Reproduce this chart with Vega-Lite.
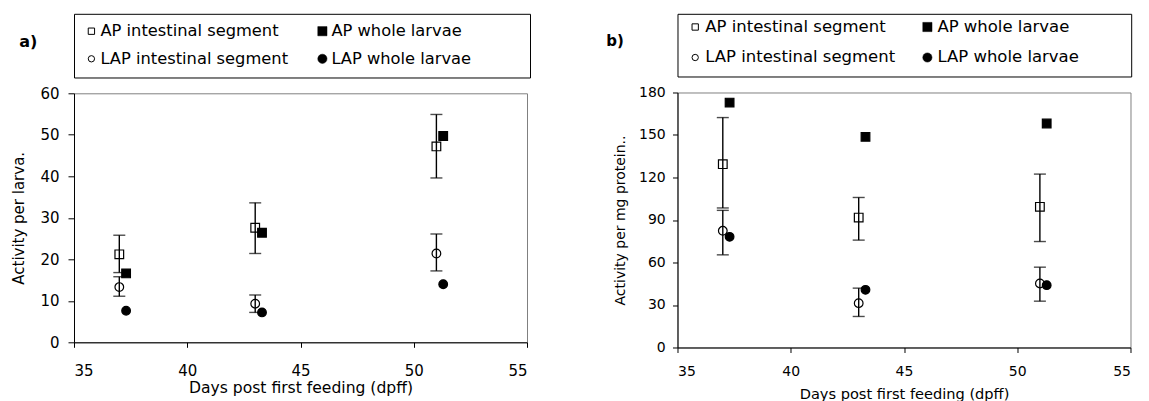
{
  "$schema": "https://vega.github.io/schema/vega-lite/v6.json",
  "background": "white",
  "padding": {"left": 10, "top": 12.8, "right": 5, "bottom": 0},
  "spacing": 74.5,
  "config": {
    "view": {"stroke": "#808080", "strokeWidth": 1},
    "axis": {
      "grid": false,
      "domainColor": "black",
      "domainWidth": 1,
      "tickColor": "black",
      "tickWidth": 1,
      "labelColor": "black",
      "titleColor": "black",
      "labelFont": "DejaVu Sans",
      "titleFont": "DejaVu Sans",
      "titleFontWeight": "normal"
    },
    "title": {"font": "DejaVu Sans", "fontWeight": "bold", "color": "black"}
  },
  "hconcat": [
    {
      "bounds": "flush",
      "spacing": 15.5,
      "resolve": {"scale": {"x": "independent", "y": "independent", "shape": "independent", "fill": "independent"}},
      "vconcat": [
        {
          "width": 456,
          "height": 63.7,
          "view": {"stroke": "black", "strokeWidth": 1, "fill": "white"},
          "title": {"text": "a)", "orient": "top", "anchor": "start", "frame": "group", "offset": 0, "fontSize": 16, "dx": -54.7, "dy": 36},
          "data": {
            "values": [
              {"series": "AP intestinal segment", "enzyme": "AP", "sample": "intestinal segment"},
              {"series": "AP whole larvae", "enzyme": "AP", "sample": "whole larvae"},
              {"series": "LAP intestinal segment", "enzyme": "LAP", "sample": "intestinal segment"},
              {"series": "LAP whole larvae", "enzyme": "LAP", "sample": "whole larvae"}
            ]
          },
          "encoding": {
            "x": {"field": "sample", "type": "nominal", "scale": {"type": "point", "domain": ["intestinal segment", "whole larvae"], "range": [17.4, 248.4], "padding": 0}, "axis": null},
            "y": {"field": "enzyme", "type": "nominal", "scale": {"type": "point", "domain": ["AP", "LAP"], "range": [17.4, 45], "padding": 0}, "axis": null},
            "shape": {"field": "enzyme", "type": "nominal", "scale": {"domain": ["AP", "LAP"], "range": ["square", "circle"]}, "legend": null}
          },
          "layer": [
            {
              "transform": [{"filter": "datum.sample == 'intestinal segment'"}],
              "mark": {"type": "point", "size": 40, "fill": "white", "stroke": "black", "strokeWidth": 1, "opacity": 1}
            },
            {
              "transform": [{"filter": "datum.sample == 'whole larvae'"}],
              "mark": {"type": "point", "size": 85, "fill": "black", "stroke": "black", "strokeWidth": 0.5, "opacity": 1}
            },
            {
              "mark": {"type": "text", "align": "left", "baseline": "middle", "dx": 9, "font": "DejaVu Sans", "fontSize": 16.3, "color": "black"},
              "encoding": {"text": {"field": "series"}, "shape": null}
            }
          ]
        },
        {
          "width": 453,
          "height": 249,
          "data": {
            "values": [
              {"series": "AP intestinal segment", "x": 37, "y": 21.2, "lo": 16.8, "hi": 25.8},
              {"series": "AP intestinal segment", "x": 43, "y": 27.6, "lo": 21.4, "hi": 33.6},
              {"series": "AP intestinal segment", "x": 51, "y": 47.2, "lo": 39.6, "hi": 54.9},
              {"series": "AP whole larvae", "x": 37.3, "y": 16.6},
              {"series": "AP whole larvae", "x": 43.3, "y": 26.4},
              {"series": "AP whole larvae", "x": 51.3, "y": 49.7},
              {"series": "LAP intestinal segment", "x": 37, "y": 13.3, "lo": 11.1, "hi": 15.8},
              {"series": "LAP intestinal segment", "x": 43, "y": 9.3, "lo": 7.2, "hi": 11.4},
              {"series": "LAP intestinal segment", "x": 51, "y": 21.4, "lo": 17.2, "hi": 26.1},
              {"series": "LAP whole larvae", "x": 37.3, "y": 7.6},
              {"series": "LAP whole larvae", "x": 43.3, "y": 7.2},
              {"series": "LAP whole larvae", "x": 51.3, "y": 14.0}
            ]
          },
          "layer": [
            {
              "mark": {"type": "point", "size": 75, "stroke": "black", "strokeWidth": 1.2, "opacity": 1},
              "encoding": {
                "x": {"field": "x", "type": "quantitative", "scale": {"domain": [35, 55], "nice": false, "zero": false},
                  "axis": {"values": [35, 40, 45, 50, 55], "title": "Days post first feeding (dpff)", "tickSize": 5, "labelPadding": 16, "labelFontSize": 15, "titleFontSize": 15.6, "titlePadding": 2}},
                "y": {"field": "y", "type": "quantitative", "scale": {"domain": [0, 60], "nice": false},
                  "axis": {"values": [0, 10, 20, 30, 40, 50, 60], "title": "Activity per larva.", "tickSize": 6, "labelPadding": 9, "labelFontSize": 15, "titleFontSize": 15, "titlePadding": 13.5}},
                "shape": {"field": "series", "type": "nominal",
                  "scale": {"domain": ["AP intestinal segment", "AP whole larvae", "LAP intestinal segment", "LAP whole larvae"], "range": ["square", "square", "circle", "circle"]}, "legend": null},
                "fill": {"field": "series", "type": "nominal",
                  "scale": {"domain": ["AP intestinal segment", "AP whole larvae", "LAP intestinal segment", "LAP whole larvae"], "range": ["white", "black", "white", "black"]}, "legend": null}
              }
            },
            {
              "transform": [{"filter": "isValid(datum.lo)"}],
              "mark": {"type": "errorbar", "color": "black", "thickness": 1.4, "ticks": {"size": 12, "thickness": 1.4, "color": "black"}},
              "encoding": {
                "x": {"field": "x", "type": "quantitative"},
                "y": {"field": "lo", "type": "quantitative", "title": "Activity per larva."},
                "y2": {"field": "hi"}
              }
            }
          ]
        }
      ]
    },
    {
      "bounds": "flush",
      "spacing": 15.7,
      "resolve": {"scale": {"x": "independent", "y": "independent", "shape": "independent", "fill": "independent"}},
      "vconcat": [
        {
          "width": 453.7,
          "height": 62.7,
          "view": {"stroke": "black", "strokeWidth": 1, "fill": "white"},
          "title": {"text": "b)", "orient": "top", "anchor": "start", "frame": "group", "offset": 0, "fontSize": 15, "dx": -71.3, "dy": 35},
          "data": {
            "values": [
              {"series": "AP intestinal segment", "enzyme": "AP", "sample": "intestinal segment"},
              {"series": "AP whole larvae", "enzyme": "AP", "sample": "whole larvae"},
              {"series": "LAP intestinal segment", "enzyme": "LAP", "sample": "intestinal segment"},
              {"series": "LAP whole larvae", "enzyme": "LAP", "sample": "whole larvae"}
            ]
          },
          "encoding": {
            "x": {"field": "sample", "type": "nominal", "scale": {"type": "point", "domain": ["intestinal segment", "whole larvae"], "range": [17.7, 249.9], "padding": 0}, "axis": null},
            "y": {"field": "enzyme", "type": "nominal", "scale": {"type": "point", "domain": ["AP", "LAP"], "range": [13.2, 43.7], "padding": 0}, "axis": null},
            "shape": {"field": "enzyme", "type": "nominal", "scale": {"domain": ["AP", "LAP"], "range": ["square", "circle"]}, "legend": null}
          },
          "layer": [
            {
              "transform": [{"filter": "datum.sample == 'intestinal segment'"}],
              "mark": {"type": "point", "size": 40, "fill": "white", "stroke": "black", "strokeWidth": 1, "opacity": 1}
            },
            {
              "transform": [{"filter": "datum.sample == 'whole larvae'"}],
              "mark": {"type": "point", "size": 85, "fill": "black", "stroke": "black", "strokeWidth": 0.5, "opacity": 1}
            },
            {
              "mark": {"type": "text", "align": "left", "baseline": "middle", "dx": 10, "font": "DejaVu Sans", "fontSize": 16.5, "color": "black"},
              "encoding": {"text": {"field": "series"}, "shape": null}
            }
          ]
        },
        {
          "width": 453,
          "height": 255,
          "data": {
            "values": [
              {"series": "AP intestinal segment", "x": 37, "y": 129.4, "lo": 98.5, "hi": 162.3},
              {"series": "AP intestinal segment", "x": 43, "y": 91.7, "lo": 75.8, "hi": 105.9},
              {"series": "AP intestinal segment", "x": 51, "y": 99.3, "lo": 74.8, "hi": 122.4},
              {"series": "AP whole larvae", "x": 37.3, "y": 172.9},
              {"series": "AP whole larvae", "x": 43.3, "y": 148.7},
              {"series": "AP whole larvae", "x": 51.3, "y": 158.1},
              {"series": "LAP intestinal segment", "x": 37, "y": 82.4, "lo": 65.4, "hi": 96.8},
              {"series": "LAP intestinal segment", "x": 43, "y": 31.3, "lo": 21.9, "hi": 41.9},
              {"series": "LAP intestinal segment", "x": 51, "y": 45.2, "lo": 32.7, "hi": 56.7},
              {"series": "LAP whole larvae", "x": 37.3, "y": 78.1},
              {"series": "LAP whole larvae", "x": 43.3, "y": 40.7},
              {"series": "LAP whole larvae", "x": 51.3, "y": 44.0}
            ]
          },
          "layer": [
            {
              "mark": {"type": "point", "size": 75, "stroke": "black", "strokeWidth": 1.2, "opacity": 1},
              "encoding": {
                "x": {"field": "x", "type": "quantitative", "scale": {"domain": [35, 55], "nice": false, "zero": false},
                  "axis": {"values": [35, 40, 45, 50, 55], "title": "Days post first feeding (dpff)", "tickSize": 5, "labelPadding": 12, "labelFontSize": 14, "titleFontSize": 14.6, "titlePadding": 7.6}},
                "y": {"field": "y", "type": "quantitative", "scale": {"domain": [0, 180], "nice": false},
                  "axis": {"values": [0, 30, 60, 90, 120, 150, 180], "title": "Activity per mg protein..", "tickSize": 5, "labelPadding": 7.3, "labelFontSize": 14, "titleFontSize": 14, "titlePadding": 11}},
                "shape": {"field": "series", "type": "nominal",
                  "scale": {"domain": ["AP intestinal segment", "AP whole larvae", "LAP intestinal segment", "LAP whole larvae"], "range": ["square", "square", "circle", "circle"]}, "legend": null},
                "fill": {"field": "series", "type": "nominal",
                  "scale": {"domain": ["AP intestinal segment", "AP whole larvae", "LAP intestinal segment", "LAP whole larvae"], "range": ["white", "black", "white", "black"]}, "legend": null}
              }
            },
            {
              "transform": [{"filter": "isValid(datum.lo)"}],
              "mark": {"type": "errorbar", "color": "black", "thickness": 1.4, "ticks": {"size": 12, "thickness": 1.4, "color": "black"}},
              "encoding": {
                "x": {"field": "x", "type": "quantitative"},
                "y": {"field": "lo", "type": "quantitative", "title": "Activity per mg protein.."},
                "y2": {"field": "hi"}
              }
            }
          ]
        }
      ]
    }
  ]
}
